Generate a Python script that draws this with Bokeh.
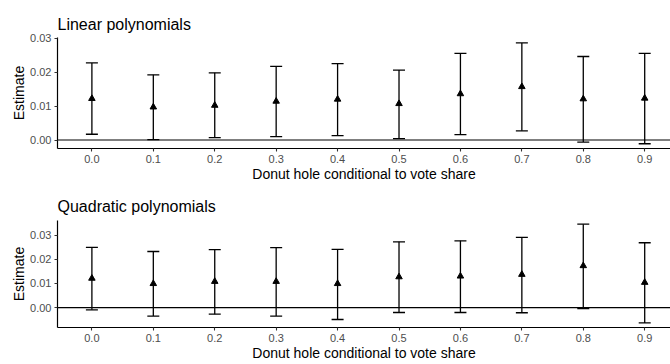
from bokeh.plotting import figure
from bokeh.models import ColumnDataSource, Whisker, TeeHead, Span, Range1d, FixedTicker
from bokeh.layouts import column
from bokeh.embed import file_html
from bokeh.resources import INLINE

donut = [0.0, 0.1, 0.2, 0.3, 0.4, 0.5, 0.6, 0.7, 0.8, 0.9]
tick_labels = ["0.0", "0.1", "0.2", "0.3", "0.4", "0.5", "0.6", "0.7", "0.8", "0.9"]

lin_est = [0.0122, 0.0097, 0.0102, 0.0114, 0.0120, 0.0107, 0.0136, 0.0157, 0.0121, 0.0123]
lin_lo = [0.0017, 0.0001, 0.0007, 0.0010, 0.0013, 0.0004, 0.0016, 0.0027, -0.0006, -0.0011]
lin_hi = [0.0227, 0.0192, 0.0198, 0.0217, 0.0225, 0.0206, 0.0255, 0.0286, 0.0246, 0.0255]

quad_est = [0.0121, 0.0099, 0.0108, 0.0108, 0.0099, 0.0127, 0.0130, 0.0137, 0.0173, 0.0104]
quad_lo = [-0.0009, -0.0035, -0.0027, -0.0035, -0.0049, -0.0020, -0.0020, -0.0021, -0.0004, -0.0063]
quad_hi = [0.0249, 0.0232, 0.0240, 0.0248, 0.0241, 0.0272, 0.0276, 0.0290, 0.0345, 0.0268]

lin_yticks = [0.00, 0.01, 0.02, 0.03]
quad_yticks = [0.00, 0.01, 0.02, 0.03]

FONT = "Liberation Sans"


def panel(title, est, lo, hi, yr, yticks, height, top, standoff):
    src = ColumnDataSource(dict(x=donut, est=est, lo=lo, hi=hi))
    p = figure(width=670, height=height, output_backend="svg", toolbar_location=None,
               x_range=Range1d(-0.056, 0.942), y_range=Range1d(*yr),
               min_border_left=57, min_border_right=0, min_border_top=top,
               min_border_bottom=37, title=title)
    p.title.text_font = FONT
    p.title.text_font_size = "16px"
    p.title.text_font_style = "normal"
    p.title.text_color = "black"
    p.title.standoff = standoff
    p.title.offset = 0
    p.outline_line_color = None
    p.grid.visible = False
    p.background_fill_color = "white"
    p.border_fill_color = "white"

    p.add_layout(Span(location=0, dimension="width", line_color="black", line_width=1.2))

    w = Whisker(base="x", upper="hi", lower="lo", source=src, dimension="height",
                line_color="black", line_width=1.3,
                upper_head=TeeHead(size=12, line_color="black", line_width=1.3),
                lower_head=TeeHead(size=12, line_color="black", line_width=1.3))
    p.add_layout(w)
    p.scatter("x", "est", source=src, marker="triangle", size=6.5,
              fill_color="black", line_color="black")

    p.xaxis.ticker = FixedTicker(ticks=donut)
    p.xaxis.major_label_overrides = {d: t for d, t in zip(donut, tick_labels)}
    p.yaxis.ticker = FixedTicker(ticks=yticks)
    p.yaxis.major_label_overrides = {v: f"{v:.2f}" for v in yticks}
    p.xaxis.axis_label = "Donut hole conditional to vote share"
    p.yaxis.axis_label = "Estimate"
    for ax in (p.xaxis, p.yaxis):
        ax.axis_line_color = "black"
        ax.axis_line_width = 1.2
        ax.major_tick_line_color = "#333333"
        ax.major_tick_line_width = 1.1
        ax.major_tick_out = 3
        ax.major_tick_in = 0
        ax.minor_tick_line_color = None
        ax.major_label_text_font = FONT
        ax.major_label_text_font_size = "11px"
        ax.major_label_text_color = "#4D4D4D"
        ax.major_label_standoff = 3
        ax.axis_label_text_font = FONT
        ax.axis_label_text_font_size = "14px"
        ax.axis_label_text_font_style = "normal"
        ax.axis_label_text_color = "black"
        ax.axis_label_standoff = 0
    return p


p1 = panel("Linear polynomials", lin_est, lin_lo, lin_hi, (-0.0025, 0.0302), lin_yticks,
           185, 37, 10)
p2 = panel("Quadratic polynomials", quad_est, quad_lo, quad_hi, (-0.0082, 0.0360), quad_yticks,
           179, 35, 12)

layout = column(p1, p2, spacing=0)
open("out.html", "w").write(file_html(layout, INLINE))
